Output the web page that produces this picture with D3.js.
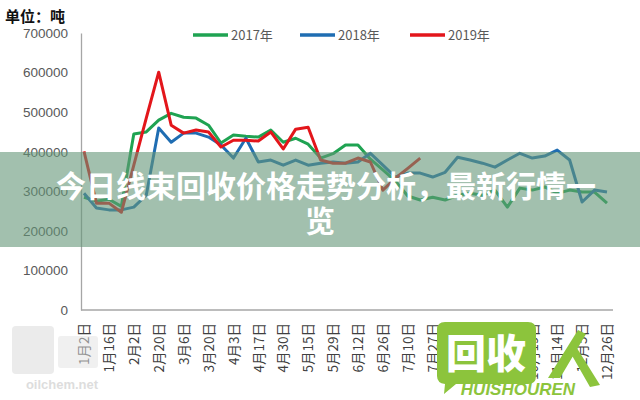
<!DOCTYPE html>
<html><head><meta charset="utf-8">
<script src="https://cdn.jsdelivr.net/npm/d3@7"></script>
<style>html,body{margin:0;padding:0;background:#fff;}svg{display:block;}</style>
</head><body>
<script>
const xLabels = ["1月2日","1月16日","2月2日","2月20日","3月6日","3月20日","4月3日","4月17日","4月30日","5月15日","5月29日","6月12日","6月26日","7月10日","7月27日","8月17日","9月7日","9月28日","10月19日","11月14日","12月5日","12月26日"];
const yTicks = [0,100000,200000,300000,400000,500000,600000,700000];
const seriesNames = ["2017年","2018年","2019年"];
const s2017 = [285000,275000,280000,262000,445000,450000,480000,497000,487000,485000,467000,422000,442000,439000,437000,455000,424000,434000,419000,384000,395000,417000,417000,381000,354000,326000,288000,278000,285000,278000,290000,295000,290000,303000,260000,308000,303000,311000,295000,303000,298000,298000,270000];
const s2018 = [295000,258000,253000,253000,260000,290000,460000,424000,447000,447000,437000,417000,384000,434000,374000,379000,366000,379000,366000,371000,374000,371000,374000,396000,366000,336000,346000,346000,336000,348000,386000,379000,371000,361000,379000,396000,384000,389000,404000,379000,273000,303000,298000];
const s2019 = [401000,270000,270000,247000,366000,485000,601000,467000,447000,455000,450000,412000,429000,429000,427000,450000,407000,457000,462000,379000,371000,371000,384000,374000,303000,333000,358000,384000];
const colors = ["#1fa352","#1f6db2","#e3161b"];

const W = 640, H = 400;
const svg = d3.select("body").append("svg").attr("width", W).attr("height", H);

const idx = d3.range(s2017.length);
const x = d3.scalePoint().domain(idx).range([84, 607]);
const y = d3.scaleLinear().domain([0, 700000]).range([310, 33]);

// unit label
svg.append("text").attr("x", 5).attr("y", 22).text("单位：吨")
  .attr("font-family", "Noto Sans CJK SC").attr("font-weight", "bold").attr("font-size", 15).attr("fill", "#111");

// y axis
const yAxis = d3.axisLeft(y).tickValues(yTicks).tickFormat(d3.format("d")).tickSize(0).tickPadding(13);
const gy = svg.append("g").attr("transform", "translate(81,0)").call(yAxis);
gy.select(".domain").attr("stroke", "#a6a6a6").attr("stroke-width", 1.3);
gy.selectAll("text").attr("font-family", "Liberation Sans, Arial").attr("font-size", 13.5).attr("fill", "#595959");

// x axis
const labelIdx = xLabels.map((d, i) => i * 2);
const xAxis = d3.axisBottom(x).tickValues(labelIdx).tickFormat(d => xLabels[d / 2]).tickSize(0);
const gx = svg.append("g").attr("transform", "translate(0,310)").call(xAxis);
gx.select(".domain").attr("d", "M81,0H613").attr("stroke", "#a6a6a6").attr("stroke-width", 1.3);
gx.selectAll("text")
  .attr("font-family", "Noto Sans CJK SC").attr("font-size", 13.5).attr("fill", "#404040")
  .attr("transform", "rotate(-90)").attr("text-anchor", "end")
  .attr("x", -13).attr("y", 0).attr("dy", "0.35em");

// lines
const line = d3.line().x((d, i) => x(i)).y(d => y(d));
[s2017, s2018, s2019].forEach((s, k) => {
  svg.append("path").datum(s).attr("d", line).attr("fill", "none")
    .attr("stroke", colors[k]).attr("stroke-width", 3).attr("stroke-linejoin", "round");
});

// legend
const legX = [193, 300, 410];
seriesNames.forEach((n, k) => {
  svg.append("line").attr("x1", legX[k]).attr("x2", legX[k] + 35).attr("y1", 35).attr("y2", 35)
    .attr("stroke", colors[k]).attr("stroke-width", 3.5);
  svg.append("text").attr("x", legX[k] + 38).attr("y", 40).text(n)
    .attr("font-family", "Noto Sans CJK SC").attr("font-size", 13).attr("fill", "#595959");
});

// oilchem watermark
const wm = svg.append("g").attr("opacity", 0.5);
wm.append("rect").attr("x", 12).attr("y", 326).attr("width", 42).attr("height", 48).attr("rx", 4).attr("fill", "#d9d9d9");
wm.append("rect").attr("x", 58).attr("y", 336).attr("width", 40).attr("height", 32).attr("rx", 3).attr("fill", "#e3e3e3");
wm.append("text").attr("x", 62).attr("y", 389).attr("text-anchor", "middle").text("oilchem.net")
  .attr("font-family", "Liberation Sans, Arial").attr("font-weight", "bold").attr("font-size", 13).attr("fill", "#bdbdbd");

// huishouren logo
const lg = svg.append("g");
lg.append("path").attr("d", "M445,322 H528 Q536,322 536,330 V376 Q536,384 528,384 H456 L444,394 L445,384 Q437,383 437,376 V330 Q437,322 445,322 Z").attr("fill", "#8cc43c");
lg.append("text").attr("x", 486).attr("y", 368).attr("text-anchor", "middle").text("回收")
  .attr("font-family", "Noto Sans CJK SC").attr("font-weight", "900").attr("font-size", 40).attr("fill", "#fff");
lg.append("path").attr("d", "M548,378 L578,330 L586,334 L560,378 Z M575,345 L600,385 L590,387 L570,352 Z").attr("fill", "#8cc43c");
lg.append("text").attr("x", 518).attr("y", 395).attr("text-anchor", "middle").text("HUISHOUREN")
  .attr("font-family", "Liberation Sans, Arial").attr("font-weight", "bold").attr("font-style", "italic")
  .attr("font-size", 17).attr("fill", "#8cc43c");

// title band
svg.append("rect").attr("x", 0).attr("y", 152).attr("width", W).attr("height", 95).attr("fill", "rgba(100,150,120,0.6)");
const tStyle = s => s.attr("text-anchor", "middle").attr("font-family", "Noto Sans CJK SC")
  .attr("font-weight", "bold").attr("font-size", 30).attr("fill", "#fff");
svg.append("text").attr("x", 326).attr("y", 197).text("今日线束回收价格走势分析，最新行情一").call(tStyle);
svg.append("text").attr("x", 320).attr("y", 232).text("览").call(tStyle);
</script>
</body></html>
